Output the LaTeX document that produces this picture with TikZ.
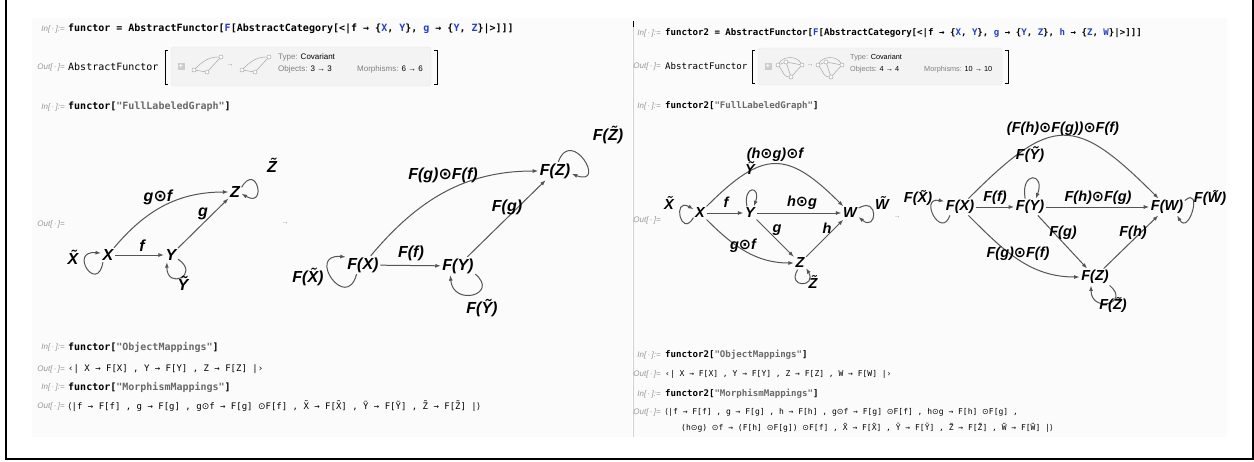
\documentclass[tikz,border=0pt]{standalone}
\usepackage{fontspec}
\setsansfont{Liberation Sans}
\setmonofont{DejaVu Sans Mono}
\newfontfamily\symfont{DejaVu Sans}
\usetikzlibrary{arrows.meta}

\definecolor{codeblue}{RGB}{38,62,200}
\definecolor{edgegray}{RGB}{85,85,85}
\definecolor{promptgray}{RGB}{150,150,150}
\definecolor{strgray}{RGB}{105,105,105}
\definecolor{cellbg}{RGB}{251,251,251}
\definecolor{panelbg}{RGB}{243,243,243}

\newcommand{\odt}{{\symfont ⊙}}
\newcommand{\bl}[1]{\textcolor{codeblue}{#1}}
\newcommand{\str}[1]{\textcolor{strgray}{"#1"}}

\tikzset{
  prompt/.style={anchor=east, inner sep=0pt, text=promptgray,
    font=\sffamily\itshape\fontsize{8}{9}\selectfont},
  codeL/.style={anchor=west, inner sep=0pt, font=\ttfamily\bfseries\fontsize{10}{12}\selectfont},
  codeR/.style={anchor=west, inner sep=0pt, font=\ttfamily\bfseries\fontsize{9.1}{11}\selectfont},
  outL/.style={anchor=west, inner sep=0pt, font=\ttfamily\fontsize{9}{11}\selectfont},
  outR/.style={anchor=west, inner sep=0pt, font=\ttfamily\fontsize{8}{10}\selectfont},
  obj/.style={inner sep=1.5pt, font=\sffamily\bfseries\itshape\fontsize{16}{16}\selectfont},
  objR/.style={inner sep=1.5pt, font=\sffamily\bfseries\itshape\fontsize{14.5}{15}\selectfont},
  arr/.style={draw=edgegray, line width=1pt, -{Latex[length=5.5pt,width=4pt]}},
  paneltxt/.style={anchor=west, inner sep=0pt, font=\sffamily\fontsize{8}{9}\selectfont},
  paneltxtR/.style={anchor=west, inner sep=0pt, font=\sffamily\fontsize{7.3}{8}\selectfont},
  plusbox/.style={fill=gray!40, minimum size=7pt, inner sep=0pt, text=white,
    font=\sffamily\bfseries\fontsize{7}{7}\selectfont},
  dot/.style={circle, draw=gray!70, fill=white, line width=0.5pt, minimum size=4pt, inner sep=0pt},
  mini/.style={draw=gray!70, line width=0.5pt},
  smallarr/.style={text=promptgray, font=\sffamily\fontsize{7}{7}\selectfont},
}

\begin{document}
\begin{tikzpicture}[x=1pt,y=-1pt]
  \useasboundingbox (0,0) rectangle (1254,461);
  % cells and frame
  \fill[cellbg] (32,18) rectangle (632,437);
  \fill[cellbg] (634,18) rectangle (1227,437);
  \draw[gray!35, line width=0.6pt] (633,27) -- (633,437);
  \draw[black, line width=0.8pt] (633,21) -- (633,27);
  \draw[line width=1.2pt] (6,0) -- (6,459) -- (1253,459) -- (1253,0);

  %% left notebook
  \node[prompt] (lp1) at (65,29) {In[\,·\,]:=};
  \node[codeL] (lc1) at (68,29) {functor = AbstractFunctor[\bl{F}[AbstractCategory[<|f → \{\bl{X}, \bl{Y}\}, \bl{g} → \{\bl{Y}, \bl{Z}\}|>]]]};
  \node[prompt] (lp2) at (65,67) {Out[\,·\,]=};
  \node[anchor=west, inner sep=0pt, font=\ttfamily\fontsize{10}{12}\selectfont] (laf) at (68,67) {AbstractFunctor};
  \draw[line width=0.6pt] (168,50) -- (165,50) -- (165,84) -- (168,84);
  \draw[line width=0.6pt] (434,50) -- (437,50) -- (437,84) -- (434,84);
  \draw[fill=panelbg, draw=gray!20, rounded corners=3pt] (171,47) rectangle (431,86);
  \node[plusbox] (lplus) at (181,66) {+};
  \foreach \ix in {192,240}{
    \begin{scope}[shift={(\ix,56)}]
      \node[dot] (ia\ix) at (2,14) {};
      \node[dot] (ib\ix) at (15,16) {};
      \node[dot] (ic\ix) at (29,1) {};
      \draw[mini] (ia\ix) -- (ib\ix) -- (ic\ix);
      \draw[mini] (ia\ix) to[out=45,in=180] (ic\ix);
    \end{scope}
  }
  \node[smallarr] (liar) at (230,66) {→};
  \node[paneltxt] (lty) at (278,57) {\textcolor{gray}{Type:} Covariant};
  \node[paneltxt] (lob) at (278,69) {\textcolor{gray}{Objects:} 3 → 3};
  \node[paneltxt] (lmo) at (357,69) {\textcolor{gray}{Morphisms:} 6 → 6};

  \node[prompt] (lp3) at (65,107) {In[\,·\,]:=};
  \node[codeL] (lc3) at (68,107) {functor[\str{FullLabeledGraph}]};
  \node[prompt] (lp4) at (65,224) {Out[\,·\,]=};
  \node[smallarr] (lmid) at (285,224) {→};

  % source category
  \node[obj] (aX) at (108,255) {X};
  \node[obj] (aY) at (171,255) {Y};
  \node[obj] (aZ) at (235,192) {Z};
  \draw[arr] (aX) -- (aY);
  \draw[arr] (aY) -- (aZ);
  \draw[arr] (aX) to[out=50,in=180] (aZ);
  \draw[arr] (aX.235) to[out=260,in=175,distance=33pt] (aX.165);
  \draw[arr] (aY.-30) to[out=-35,in=-90,distance=28pt] (aY.-120);
  \draw[arr] (aZ.35) to[out=60,in=-30,distance=30pt] (aZ.-15);
  \node[obj] (aXt) at (73,257) {\~X};
  \node[obj] (aYt) at (183,283) {\~Y};
  \node[obj] (aZt) at (272,165) {\~Z};
  \node[obj] (af) at (142,246) {f};
  \node[obj] (ag) at (203,214) {g};
  \node[obj] (agf) at (158,197) {g\odt f};

  % image category
  \node[obj] (bX) at (363,265) {F(X)};
  \node[obj] (bY) at (458,266) {F(Y)};
  \node[obj] (bZ) at (555,171) {F(Z)};
  \draw[arr] (bX) -- (bY);
  \draw[arr] (bY) -- (bZ);
  \draw[arr] (bX) to[out=50,in=180] (bZ);
  \draw[arr] (bX.235) to[out=255,in=175,distance=40pt] (bX.155);
  \draw[arr] (bY.-25) to[out=-40,in=-85,distance=32pt] (bY.-130);
  \draw[arr] (bZ.70) to[out=70,in=-20,distance=38pt] (bZ.-10);
  \node[obj] (bXt) at (308,277) {F(\~X)};
  \node[obj] (bYt) at (482,308) {F(\~Y)};
  \node[obj] (bZt) at (608,135) {F(\~Z)};
  \node[obj] (bf) at (411,253) {F(f)};
  \node[obj] (bg) at (507,207) {F(g)};
  \node[obj] (bgf) at (443,175) {F(g)\odt F(f)};

  \node[prompt] (lp5) at (65,347) {In[\,·\,]:=};
  \node[codeL] (lc5) at (68,347) {functor[\str{ObjectMappings}]};
  \node[prompt] (lp6) at (65,369) {Out[\,·\,]=};
  \node[outL] (lo6) at (68,369) {‹| X → F[X] , Y → F[Y] , Z → F[Z] |›};
  \node[prompt] (lp7) at (65,387) {In[\,·\,]:=};
  \node[codeL] (lc7) at (68,387) {functor[\str{MorphismMappings}]};
  \node[prompt] (lp8) at (65,406) {Out[\,·\,]=};
  \node[outL] (lo8) at (68,406) {{\symfont ⟨}|f → F[f] , g → F[g] , g\odt f → F[g] \odt F[f] , \~X → F[\~X] , \~Y → F[\~Y] , \~Z → F[\~Z] |{\symfont ⟩}};

  %% right notebook
  \node[prompt] (rp1) at (661,33) {In[\,·\,]:=};
  \node[codeR] (rc1) at (665,33) {functor2 = AbstractFunctor[\bl{F}[AbstractCategory[<|f → \{\bl{X}, \bl{Y}\}, \bl{g} → \{\bl{Y}, \bl{Z}\}, \bl{h} → \{\bl{Z}, \bl{W}\}|>]]]};
  \node[prompt] (rp2) at (661,66) {Out[\,·\,]=};
  \node[anchor=west, inner sep=0pt, font=\ttfamily\fontsize{9.1}{11}\selectfont] (raf) at (665,66) {AbstractFunctor};
  \draw[line width=0.6pt] (755,50) -- (752,50) -- (752,83) -- (755,83);
  \draw[line width=0.6pt] (1005,50) -- (1008,50) -- (1008,83) -- (1005,83);
  \draw[fill=panelbg, draw=gray!20, rounded corners=3pt] (758,48) rectangle (1002,85);
  \node[plusbox] (rplus) at (768,66) {+};
  \foreach \ix in {777,817}{
    \begin{scope}[shift={(\ix,56)}]
      \node[dot] (jx\ix) at (1,9) {};
      \node[dot] (jy\ix) at (9,6) {};
      \node[dot] (jz\ix) at (14,21) {};
      \node[dot] (jw\ix) at (25,9) {};
      \draw[mini] (jx\ix) -- (jy\ix) -- (jw\ix);
      \draw[mini] (jy\ix) -- (jz\ix) -- (jw\ix);
      \draw[mini] (jx\ix) to[out=60,in=120] (jw\ix);
      \draw[mini] (jx\ix) to[out=-50,in=180] (jz\ix);
    \end{scope}
  }
  \node[smallarr] (riar) at (810,66) {→};
  \node[paneltxtR] (rty) at (850,58) {\textcolor{gray}{Type:} Covariant};
  \node[paneltxtR] (rob) at (850,70) {\textcolor{gray}{Objects:} 4 → 4};
  \node[paneltxtR] (rmo) at (924,70) {\textcolor{gray}{Morphisms:} 10 → 10};

  \node[prompt] (rp3) at (661,106) {In[\,·\,]:=};
  \node[codeR] (rc3) at (665,106) {functor2[\str{FullLabeledGraph}]};
  \node[prompt] (rp4) at (661,220) {Out[\,·\,]=};
  \node[smallarr] (rmid) at (897,218) {→};

  % source category
  \node[objR] (cX) at (700,213) {X};
  \node[objR] (cY) at (750,213) {Y};
  \node[objR] (cZ) at (800,263) {Z};
  \node[objR] (cW) at (850,213) {W};
  \draw[arr] (cX) -- (cY);
  \draw[arr] (cY) -- (cW);
  \draw[arr] (cY) -- (cZ);
  \draw[arr] (cZ) -- (cW);
  \draw[arr] (cX) to[out=45,in=135,looseness=1.5] (cW);
  \draw[arr] (cX) to[out=-45,in=180] (cZ);
  \draw[arr] (cX.215) to[out=240,in=150,distance=25pt] (cX.150);
  \draw[arr] (cY.115) to[out=100,in=70,distance=22pt] (cY.60);
  \draw[arr] (cW.30) to[out=30,in=-40,distance=24pt] (cW.-25);
  \draw[arr] (cZ.-110) to[out=-120,in=-60,distance=22pt] (cZ.-40);
  \node[objR] (cXt) at (669,203) {\~X};
  \node[objR] (cYt) at (750,168) {\~Y};
  \node[objR] (cZt) at (813,282) {\~Z};
  \node[objR] (cWt) at (882,203) {\~W};
  \node[objR] (cf) at (726,202) {f};
  \node[objR] (cg) at (777,230) {g};
  \node[objR] (ch) at (827,228) {h};
  \node[objR] (chg) at (802,203) {h\odt g};
  \node[objR] (cgf) at (743,246) {g\odt f};
  \node[objR] (chgf) at (775,155) {(h\odt g)\odt f};

  % image category
  \node[objR] (dX) at (960,207) {F(X)};
  \node[objR] (dY) at (1030,207) {F(Y)};
  \node[objR] (dZ) at (1095,277) {F(Z)};
  \node[objR] (dW) at (1167,207) {F(W)};
  \draw[arr] (dX) -- (dY);
  \draw[arr] (dY) -- (dW);
  \draw[arr] (dY) -- (dZ);
  \draw[arr] (dZ) -- (dW);
  \draw[arr] (dX) to[out=45,in=135,looseness=1.6] (dW);
  \draw[arr] (dX) to[out=-45,in=180] (dZ);
  \draw[arr] (dX.220) to[out=250,in=170,distance=26pt] (dX.160);
  \draw[arr] (dY.120) to[out=100,in=70,distance=28pt] (dY.55);
  \draw[arr] (dW.20) to[out=40,in=-60,distance=24pt] (dW.-40);
  \draw[arr] (dZ.-30) to[out=-40,in=-90,distance=28pt] (dZ.-115);
  \node[objR] (dXt) at (918,198) {F(\~X)};
  \node[objR] (dYt) at (1030,155) {F(\~Y)};
  \node[objR] (dZt) at (1113,305) {F(\~Z)};
  \node[objR] (dWt) at (1210,198) {F(\~W)};
  \node[objR] (df) at (995,198) {F(f)};
  \node[objR] (dg) at (1063,233) {F(g)};
  \node[objR] (dh) at (1133,233) {F(h)};
  \node[objR] (dhg) at (1098,198) {F(h)\odt F(g)};
  \node[objR] (dgf) at (1018,254) {F(g)\odt F(f)};
  \node[objR] (dhgf) at (1063,129) {(F(h)\odt F(g))\odt F(f)};

  \node[prompt] (rp5) at (661,355) {In[\,·\,]:=};
  \node[codeR] (rc5) at (665,355) {functor2[\str{ObjectMappings}]};
  \node[prompt] (rp6) at (661,374) {Out[\,·\,]=};
  \node[outR] (ro6) at (665,374) {‹| X → F[X] , Y → F[Y] , Z → F[Z] , W → F[W] |›};
  \node[prompt] (rp7) at (661,394) {In[\,·\,]:=};
  \node[codeR] (rc7) at (665,394) {functor2[\str{MorphismMappings}]};
  \node[prompt] (rp8) at (661,412) {Out[\,·\,]=};
  \node[outR] (ro8) at (665,412) {{\symfont ⟨}|f → F[f] , g → F[g] , h → F[h] , g\odt f → F[g] \odt F[f] , h\odt g → F[h] \odt F[g] ,};
  \node[outR] (ro9) at (681,428) {(h\odt g) \odt f → (F[h] \odt F[g]) \odt F[f] , \~X → F[\~X] , \~Y → F[\~Y] , \~Z → F[\~Z] , \~W → F[\~W] |{\symfont ⟩}};
\end{tikzpicture}
\end{document}
